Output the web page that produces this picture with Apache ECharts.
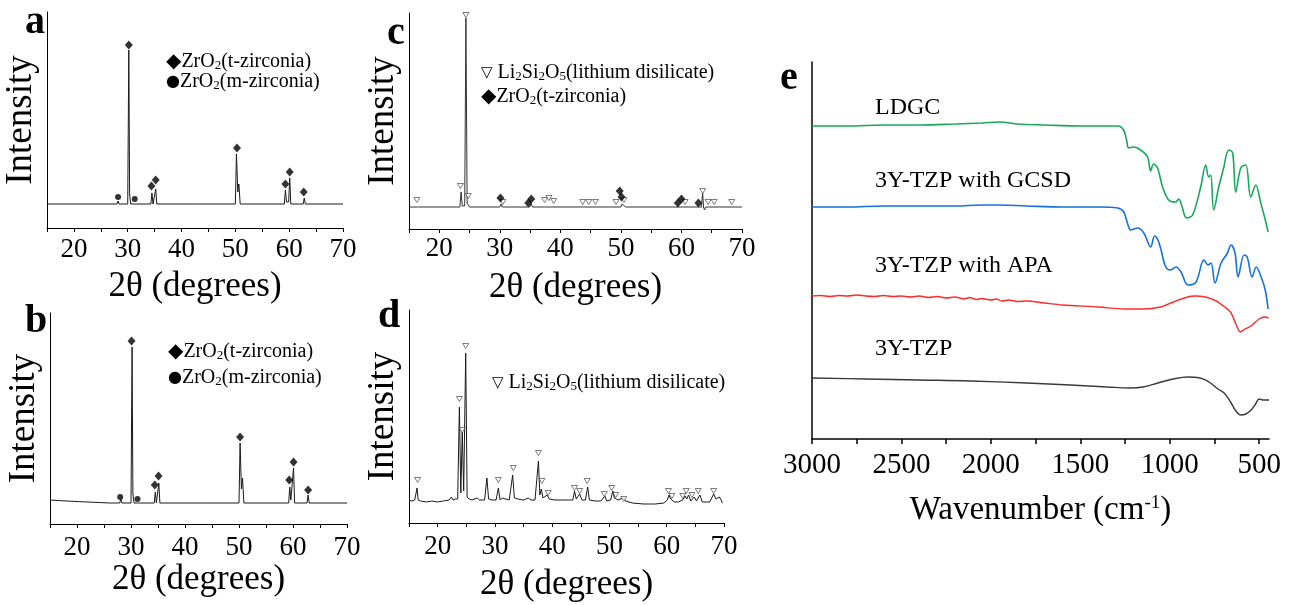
<!DOCTYPE html>
<html><head><meta charset="utf-8">
<script src="https://cdn.jsdelivr.net/npm/echarts@6/dist/echarts.min.js"></script>
<style>html,body{margin:0;padding:0;background:#fff}#c{width:1300px;height:605px}</style>
</head><body><div id="c"></div>
<script>
// ---------- XRD data (2θ in degrees, intensity in arbitrary units above baseline) ----------
const xrdA = [[15,0],[28.0,0],[28.2,3],[28.4,0],[30.0,0],[30.2,154],[30.35,10],[30.55,0],[31.3,0],[31.5,2],[31.7,0],[34.3,0],[34.5,11],[34.7,0],[35.0,0],[35.2,15],[35.4,0],[43.0,0],[43.2,2],[43.4,0],[50.0,0],[50.2,50],[50.45,12],[50.65,20],[50.9,0],[59.1,0],[59.3,14],[59.5,2],[59.9,2],[60.1,26],[60.3,0],[62.6,0],[62.8,6],[63.0,0],[70,0]];
const xrdA_t = [[30.2,159],[34.4,18],[35.2,24],[50.3,56],[59.3,20],[60.1,32],[62.7,12]];
const xrdA_m = [[28.2,7],[31.3,5]];

const xrdB = [[15,3],[18,2],[22,1],[26,0],[27.9,0],[28.1,4],[28.3,0],[30.0,0],[30.2,156],[30.35,10],[30.55,0],[31.2,0],[31.4,2],[31.6,0],[34.3,0],[34.5,11],[34.7,0],[34.95,0],[35.15,20],[35.35,0],[43.0,0],[43.2,2],[43.4,0],[50.0,0],[50.2,60],[50.45,14],[50.65,25],[50.9,0],[59.2,0],[59.4,16],[59.6,3],[59.9,3],[60.1,35],[60.3,0],[62.6,0],[62.8,8],[63.0,0],[70,0]];
const xrdB_t = [[30.1,162],[34.4,18],[35.1,27],[50.2,66],[59.3,23],[60.1,41],[62.8,13]];
const xrdB_m = [[28.0,6],[31.2,4]];

const xrdC = [[15,0],[16.2,0],[16.4,2],[16.6,0],[23.4,0],[23.6,15],[23.8,1],[24.2,1],[24.4,189],[24.6,4],[24.8,6],[25.0,0],[30.0,0],[30.2,3],[30.4,0],[34.5,0],[34.7,2],[34.9,0],[35.0,0],[35.2,3],[35.4,0],[37.6,0],[37.8,1],[38.0,0],[43.7,0],[43.9,1],[44.1,0],[50.0,0],[50.2,3],[50.5,1],[50.8,0],[59.9,0],[60.1,2],[60.3,0],[63.3,0],[63.5,14],[63.65,0],[63.8,-3],[64.0,0],[70,0]];
const xrdC_li = [[16.3,7],[23.5,21],[24.4,192],[24.8,11],[30.5,5],[37.4,7],[38.1,9],[38.9,6],[43.7,5],[44.7,5],[45.8,5],[49.2,5],[50.5,7],[60.6,5],[63.5,16],[64.4,5],[65.4,5],[68.3,5]];
const xrdC_t = [[30.1,9],[34.7,4],[35.2,8],[49.8,16],[50.1,10],[59.4,4],[60.0,8],[62.8,4]];

const xrdD = [[15,1],[15.5,0],[16,1],[16.2,2],[16.4,13],[16.6,1],[17,0],[18,-1],[19,0],[20,-1],[21,0],[22,1],[22.4,4],[22.7,1],[23.1,2],[23.3,4],[23.5,2],[23.8,94],[24.05,8],[24.3,69],[24.55,10],[24.9,148],[25.15,4],[25.5,2],[26,1],[26.9,3],[27.3,1],[28.2,1],[28.6,23],[28.9,2],[29.5,1],[30.2,1],[30.6,13],[30.9,1],[31.3,3],[31.6,1],[32.5,1],[32.8,2],[33.1,26],[33.4,3],[34,2],[35,1],[35.8,3],[36.3,1],[37,1],[37.3,2],[37.6,40],[37.85,6],[38.1,12],[38.4,3],[39.1,6],[39.5,2],[40.5,1],[42,1],[43,1],[43.6,1],[43.9,10],[44.2,2],[44.8,7],[45.2,1],[45.8,1],[46.2,14],[46.5,1],[47.5,0],[48.5,0],[49.2,5],[49.5,0],[50.2,1],[50.6,10],[50.85,3],[51.1,5],[51.5,1],[52.4,3],[52.8,0],[54,-2],[56,-3],[58,-3],[59.5,-2],[60.1,1],[60.4,6],[60.7,2],[60.9,4],[61.3,-1],[62,-1],[62.8,1],[63.2,5],[63.5,2],[63.8,6],[64.2,0],[64.8,4],[65.2,0],[65.8,6],[66.2,-1],[67.5,-1],[68.2,7],[68.6,2],[69.2,4],[69.5,1],[69.7,-2]];
const xrdD_li = [[16.5,21],[23.8,102],[24.3,71],[24.9,155],[30.6,21],[33.2,33],[37.6,48],[38.2,20],[39.3,8],[43.9,13],[44.8,10],[46.1,20],[49.1,7],[50.4,13],[51.1,6],[52.5,2],[60.3,10],[60.9,5],[62.8,5],[63.4,10],[64.4,6],[65.5,10],[68.2,10]];

// ---------- FTIR data (wavenumber cm-1, offset transmittance) ----------
const ftirLDGC = [[3000,313],[2800,313],[2600,314],[2400,314],[2200,315],[2050,316],[1950,317],[1850,315],[1700,314],[1500,313],[1350,313],[1290,313],[1258,309],[1240,298],[1230,291],[1202,292],[1163,289],[1124,282],[1107,268],[1090,275],[1068,271],[1040,252],[1006,239],[967,237],[950,240],[934,234],[906,221],[872,224],[827,252],[799,274],[782,262],[771,264],[754,229],[726,252],[700,270],[670,289],[648,286],[631,247],[603,271],[575,274],[547,242],[519,254],[491,236],[470,222],[450,207]];
const ftirGCSD = [[3000,232],[2800,232],[2600,233],[2400,233],[2200,233],[2050,234],[1950,234],[1800,233],[1600,232],[1400,232],[1290,231],[1257,227],[1235,215],[1218,209],[1179,211],[1145,206],[1106,192],[1085,203],[1066,199],[1050,190],[1022,172],[994,169],[965,172],[937,167],[898,154],[853,157],[809,179],[786,174],[769,176],[747,156],[713,176],[680,185],[657,194],[635,186],[618,162],[584,184],[567,182],[539,162],[517,172],[483,159],[465,148],[450,130]];
const ftirAPA = [[3000,143],[2950,143.5],[2900,142.5],[2850,143.5],[2800,143],[2750,144],[2700,143],[2650,142.5],[2600,143.5],[2550,142.5],[2500,143],[2450,142],[2400,143],[2350,141.5],[2300,142.5],[2250,141],[2200,142],[2150,140],[2120,141.5],[2080,139.5],[2050,140.5],[2000,139],[1970,140],[1940,138],[1900,139],[1850,137.5],[1800,138],[1700,136],[1600,134],[1400,132],[1250,130],[1150,130],[1050,132],[980,137],[900,142],[860,143],[800,142],[740,138],[700,133],[660,127],[630,115],[605,107],[580,110],[545,113],[500,120],[470,122],[448,121]];
const ftirTZP = [[3000,61],[2700,60],[2400,59],[2115,58],[1800,56],[1554,54],[1350,52],[1220,51],[1150,52],[1066,56],[980,60],[898,62],[830,61],[780,57],[730,50],[696,46],[660,37],[630,28],[601,24],[575,25],[545,29],[520,35],[500,40],[480,39],[445,39]];
const ftirTicks = [3000,2750,2500,2250,2000,1750,1500,1250,1000,750,500];
const ftirLabels = [3000,2500,2000,1500,1000,500];
const ftirNames = ['LDGC','3Y-TZP with GCSD','3Y-TZP with APA','3Y-TZP'];

// ---------- chart ----------
const F = "'Liberation Serif','Times New Roman',serif";
const chart = echarts.init(document.getElementById('c'), null, {renderer:'canvas'});

const grids = [
  {left:47, top:12, width:296, height:216},
  {left:50, top:313, width:297, height:211},
  {left:409, top:13, width:333, height:216},
  {left:409, top:310, width:315, height:213},
  {left:812, top:62, width:457, height:377}
].map(g => Object.assign({outerBoundsMode:'none', containLabel:false}, g));

function xrdX(gi, margin, nameGap){
  return {type:'value', gridIndex:gi, min:15, max:70, interval:5,
    name:'2\u03b8 (degrees)', nameLocation:'middle', nameGap:nameGap,
    nameTextStyle:{fontFamily:F, fontSize:35, color:'#000'},
    axisLine:{show:true, onZero:false, lineStyle:{color:'#000', width:1}},
    axisTick:{show:true, inside:false, length:4, lineStyle:{color:'#000', width:1}},
    axisLabel:{margin:margin, fontFamily:F, fontSize:27, color:'#000',
      formatter:v => (v % 10 === 0 ? String(v) : '')},
    splitLine:{show:false}};
}
function xrdY(gi, min, max){
  return {type:'value', gridIndex:gi, min:min, max:max,
    name:'Intensity', nameLocation:'middle', nameRotate:90, nameGap:7,
    nameTextStyle:{fontFamily:F, fontSize:37, color:'#000'},
    axisLine:{show:true, onZero:false, lineStyle:{color:'#000', width:1}},
    axisTick:{show:false}, axisLabel:{show:false}, splitLine:{show:false}};
}

const xAxes = [xrdX(0,8,41), xrdX(1,10,37), xrdX(2,6,41), xrdX(3,10,44),
  {type:'value', gridIndex:4, min:445, max:3000, inverse:true,
    name:'Wavenumber (cm{sup|-1})', nameLocation:'middle', nameGap:55,
    nameTextStyle:{fontFamily:F, fontSize:33, color:'#000',
      rich:{sup:{fontFamily:F, fontSize:19, color:'#000', verticalAlign:'top', lineHeight:20}}},
    axisLine:{show:true, onZero:false, lineStyle:{color:'#000', width:1.5}},
    axisTick:{show:true, inside:false, length:5, customValues:ftirTicks, lineStyle:{color:'#000', width:1.5}},
    axisLabel:{margin:12, fontFamily:F, fontSize:29, color:'#000', customValues:ftirLabels,
      showMinLabel:true, showMaxLabel:true, formatter:v => String(v)},
    splitLine:{show:false}}
];
const yAxes = [xrdY(0,-24,192), xrdY(1,-21,190), xrdY(2,-22,194), xrdY(3,-22,191),
  {type:'value', gridIndex:4, min:0, max:377,
    axisLine:{show:true, onZero:false, lineStyle:{color:'#000', width:1.5}},
    axisTick:{show:false}, axisLabel:{show:false}, splitLine:{show:false}}
];

function line(data, gi, color, width, smooth){
  return {type:'line', data:data, xAxisIndex:gi, yAxisIndex:gi, showSymbol:false, symbol:'none',
    smooth:smooth || false, lineStyle:{color:color, width:width}, silent:true, animation:false, z:2};
}
function marks(data, gi, kind){
  const s = {type:'scatter', data:data, xAxisIndex:gi, yAxisIndex:gi, silent:true, animation:false, z:3};
  if(kind === 'd'){ s.symbol='diamond'; s.symbolSize=[8,9]; s.itemStyle={color:'#000'}; }
  else if(kind === 'c'){ s.symbol='circle'; s.symbolSize=6; s.itemStyle={color:'#000'}; }
  else { s.symbol='triangle'; s.symbolRotate=180; s.symbolSize=[6,5]; s.itemStyle={color:'#fff', borderColor:'#333', borderWidth:0.8}; }
  return s;
}

const series = [
  line(xrdA,0,'#1a1a1a',1), marks(xrdA_t,0,'d'), marks(xrdA_m,0,'c'),
  line(xrdB,1,'#1a1a1a',1), marks(xrdB_t,1,'d'), marks(xrdB_m,1,'c'),
  line(xrdC,2,'#333',1), marks(xrdC_li,2,'t'), marks(xrdC_t,2,'d'),
  line(xrdD,3,'#1a1a1a',1), marks(xrdD_li,3,'t'),
  line(ftirLDGC,4,'#19a85a',1.6,0.35), line(ftirGCSD,4,'#1670e0',1.6,0.35),
  line(ftirAPA,4,'#ff2a2a',1.4,0.3), line(ftirTZP,4,'#3a3a3a',1.4,0.4)
];

const richLeg = {
  sym:{fontFamily:'DejaVu Sans', fontSize:20, color:'#000'},
  dot:{fontFamily:'DejaVu Sans', fontSize:16, color:'#000'},
  tri:{fontFamily:'DejaVu Sans', fontSize:15, color:'#000'},
  s:{fontFamily:F, fontSize:13, color:'#000', verticalAlign:'bottom', lineHeight:13}
};
function legText(x, y, text){
  return {type:'text', x:x, y:y, silent:true,
    style:{text:text, rich:richLeg, fontFamily:F, fontSize:20, fill:'#000', align:'left', verticalAlign:'middle'}};
}
function letter(x, y, t){
  return {type:'text', x:x, y:y, silent:true,
    style:{text:t, fontFamily:F, fontSize:40, fontWeight:'bold', fill:'#000', align:'left', verticalAlign:'middle'}};
}
function ftirLabel(y, t){
  return {type:'text', x:875, y:y, silent:true,
    style:{text:t, fontFamily:F, fontSize:24, fill:'#000', align:'left', verticalAlign:'middle'}};
}

const graphic = [
  letter(25,23,'a'), letter(25,322,'b'), letter(387,34,'c'), letter(378,317,'d'), letter(780,79,'e'),
  legText(166,62,'{sym|\u25c6}ZrO{s|2}(t-zirconia)'),
  legText(166,82,'{dot|\u25cf}ZrO{s|2}(m-zirconia)'),
  legText(168,352,'{sym|\u25c6}ZrO{s|2}(t-zirconia)'),
  legText(168,378,'{dot|\u25cf}ZrO{s|2}(m-zirconia)'),
  legText(481,73,'{tri|\u25bd} Li{s|2}Si{s|2}O{s|5}(lithium disilicate)'),
  legText(481,97,'{sym|\u25c6}ZrO{s|2}(t-zirconia)'),
  legText(492,383,'{tri|\u25bd} Li{s|2}Si{s|2}O{s|5}(lithium disilicate)'),
  ftirLabel(108, ftirNames[0]), ftirLabel(181, ftirNames[1]), ftirLabel(266, ftirNames[2]), ftirLabel(349, ftirNames[3])
];

chart.setOption({
  animation:false,
  backgroundColor:'#fff',
  grid:grids, xAxis:xAxes, yAxis:yAxes, series:series, graphic:graphic
});
</script>
</body></html>
